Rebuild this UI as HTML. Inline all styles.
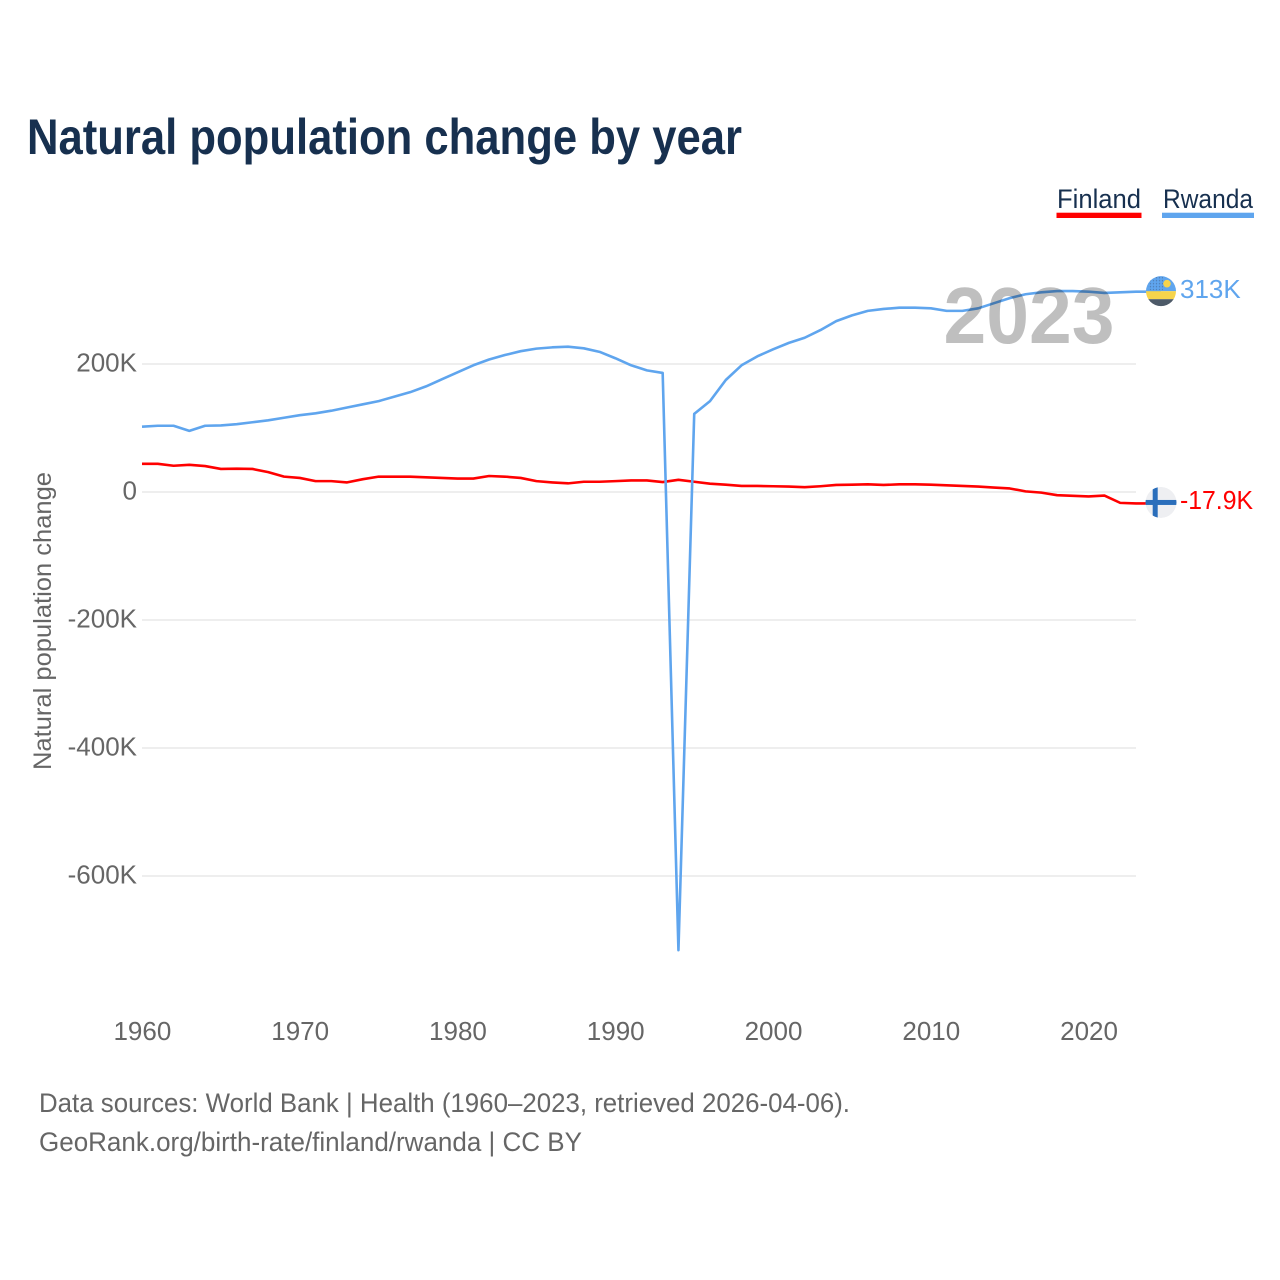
<!DOCTYPE html>
<html>
<head>
<meta charset="utf-8">
<title>Natural population change by year</title>
<style>
  html, body { margin: 0; padding: 0; background: #fff; }
  svg { display: block; font-family: "Liberation Sans", sans-serif; }
</style>
</head>
<body>
<svg id="chart" width="1280" height="1280" viewBox="0 0 1280 1280" xmlns="http://www.w3.org/2000/svg">
  <rect width="1280" height="1280" fill="#fff"/>
  <text x="27" y="154" font-size="50" font-weight="700" fill="#17304f" textLength="715" lengthAdjust="spacingAndGlyphs">Natural population change by year</text>

  <g>
    <g>
      <text x="1057" y="208" font-size="27" fill="#17304f" textLength="84" lengthAdjust="spacingAndGlyphs">Finland</text>
      <rect x="1056.5" y="212.7" width="85" height="5.3" fill="#ff0000"/>
    </g>
    <g>
      <text x="1163" y="208" font-size="27" fill="#17304f" textLength="90" lengthAdjust="spacingAndGlyphs">Rwanda</text>
      <rect x="1162" y="212.7" width="92" height="5.3" fill="#5fa5ee"/>
    </g>
  </g>

  <g id="grid"></g>
  <g id="y-ticks"></g>
  <g id="x-ticks"></g>
  <text transform="translate(51 621) rotate(-90)" text-anchor="middle" font-size="25" fill="#666" textLength="298" lengthAdjust="spacingAndGlyphs">Natural population change</text>

  <g id="series"></g>

  <text x="943.5" y="343" font-size="80" font-weight="700" fill="#000" fill-opacity="0.25" textLength="171" lengthAdjust="spacingAndGlyphs">2023</text>

  <defs>
    <clipPath id="clip-rwanda"><circle id="clip-rw-circle" r="15"/></clipPath>
    <clipPath id="clip-finland"><circle id="clip-fi-circle" r="15.5"/></clipPath>
    <pattern id="dots" width="3" height="3" patternUnits="userSpaceOnUse"><rect width="3" height="3" fill="none"/><circle cx="1.5" cy="1.5" r="0.7" fill="#2f2f3f" fill-opacity="0.55"/></pattern>
  </defs>

  <g id="flag-rwanda" clip-path="url(#clip-rwanda)">
    <rect x="-15" y="-16" width="30" height="16" fill="#5fa5ee"/>
    <rect x="-13" y="-15" width="15" height="14" fill="url(#dots)" opacity="0.6"/>
    <circle cx="6" cy="-7.5" r="3.8" fill="#f6d44c"/>
    <rect x="-15" y="0" width="30" height="8" fill="#f6d44c"/>
    <rect x="-15" y="8" width="30" height="8" fill="#4d5a68"/>
  </g>
  <g id="flag-finland" clip-path="url(#clip-finland)">
    <circle r="15.5" fill="#eeeff2"/>
    <rect x="-16" y="-2.5" width="32" height="5" fill="#2a6ebb"/>
    <rect x="-8.3" y="-16" width="5" height="32" fill="#2a6ebb"/>
  </g>

  <text id="label-rwanda" x="1180" font-size="26" fill="#5fa5ee">313K</text>
  <text id="label-finland" x="1180" font-size="26" fill="#ff0000" textLength="73" lengthAdjust="spacingAndGlyphs">-17.9K</text>

  <g>
    <text x="39" y="1112" font-size="27" fill="#666" textLength="811" lengthAdjust="spacingAndGlyphs">Data sources: World Bank | Health (1960–2023, retrieved 2026-04-06).</text>
    <text x="39" y="1151" font-size="27" fill="#666" textLength="543" lengthAdjust="spacingAndGlyphs">GeoRank.org/birth-rate/finland/rwanda | CC BY</text>
  </g>
</svg>

<script>
const years = [1960,1961,1962,1963,1964,1965,1966,1967,1968,1969,1970,1971,1972,1973,1974,1975,1976,1977,1978,1979,1980,1981,1982,1983,1984,1985,1986,1987,1988,1989,1990,1991,1992,1993,1994,1995,1996,1997,1998,1999,2000,2001,2002,2003,2004,2005,2006,2007,2008,2009,2010,2011,2012,2013,2014,2015,2016,2017,2018,2019,2020,2021,2022,2023];
const rwandaValues = [102,103.5,103.5,95.5,103.5,104,106,109,112,116,120,123,127,132,137,142,149,156,165,176,187,198,207,214,220,224,226,227,224.5,219,209,198,190,186,-716,122,142,175,198,212,223,233,241,253,267,276,283,286,288,288,287,283,283,287,295,303,309,312,314,314,313,311,312,313];
const finlandValues = [44,44,41,42.5,40.5,36,36.5,36,31,24,22,17,17,15,20,24,24,24,23,22,21,21,25,24,22,17,15,13.5,16,16,17,18,18,15.5,19,16,13,11.5,9.5,9.5,9,8.5,7.5,9,11,11.5,12,11,12,12,11.5,10.5,9.5,8.5,7,5.5,1,-1,-5,-6,-7,-5.5,-17,-17.9];
const yTickValues = [200,0,-200,-400,-600];
const yTickLabels = ["200K","0","-200K","-400K","-600K"];
const xTickValues = [1960,1970,1980,1990,2000,2010,2020];

const SVG_NS = "http://www.w3.org/2000/svg";
function xScale(year) { return 142 + (year - 1960) * (1136 - 142) / 63; }
function yScale(value) { return 492 - value * 0.64; }
function make(tag, parent) {
  const el = document.createElementNS(SVG_NS, tag);
  parent.appendChild(el);
  return el;
}

const grid = document.getElementById("grid");
const yTicks = document.getElementById("y-ticks");
yTickValues.forEach(function (v, i) {
  const line = make("line", grid);
  
  
  line.setAttribute("x1", 142);
  line.setAttribute("x2", 1136);
  line.setAttribute("y1", yScale(v));
  line.setAttribute("y2", yScale(v));
  line.setAttribute("stroke", "#eeeeee");
  line.setAttribute("stroke-width", 2);

  const t = make("text", yTicks);
  
  
  t.setAttribute("x", 137);
  t.setAttribute("y", yScale(v) + 7.5);
  t.setAttribute("text-anchor", "end");
  t.setAttribute("font-size", 26);
  t.setAttribute("fill", "#666");
  t.textContent = yTickLabels[i];
});

const xTicks = document.getElementById("x-ticks");
xTickValues.forEach(function (y) {
  const t = make("text", xTicks);
  
  
  t.setAttribute("x", xScale(y) + 0.4);
  t.setAttribute("y", 1040);
  t.setAttribute("text-anchor", "middle");
  t.setAttribute("font-size", 26);
  t.setAttribute("fill", "#666");
  t.textContent = String(y);
});

const flagX = xScale(2023) + 25;
function linePath(values) {
  let d = "";
  values.forEach(function (v, i) {
    d += (i ? "L" : "M") + xScale(years[i]).toFixed(2) + " " + yScale(v).toFixed(2);
  });
  return d + "L" + flagX + " " + yScale(values[values.length - 1]).toFixed(2);
}

const seriesGroup = document.getElementById("series");
const finlandLine = make("path", seriesGroup);


finlandLine.setAttribute("d", linePath(finlandValues));
finlandLine.setAttribute("fill", "none");
finlandLine.setAttribute("stroke", "#ff0000");
finlandLine.setAttribute("stroke-width", 2.6);
finlandLine.setAttribute("stroke-linejoin", "round");

const rwandaLine = make("path", seriesGroup);


rwandaLine.setAttribute("d", linePath(rwandaValues));
rwandaLine.setAttribute("fill", "none");
rwandaLine.setAttribute("stroke", "#5fa5ee");
rwandaLine.setAttribute("stroke-width", 2.6);
rwandaLine.setAttribute("stroke-linejoin", "round");

const rwY = yScale(rwandaValues[rwandaValues.length - 1]);
const fiY = yScale(finlandValues[finlandValues.length - 1]);
document.getElementById("flag-rwanda").setAttribute("transform", "translate(" + flagX + " " + (rwY - 0.5) + ")");
document.getElementById("flag-finland").setAttribute("transform", "translate(" + flagX + " " + (fiY - 1) + ")");
document.getElementById("label-rwanda").setAttribute("y", rwY + 6.5);
document.getElementById("label-finland").setAttribute("y", fiY + 5.5);
</script>
</body>
</html>
